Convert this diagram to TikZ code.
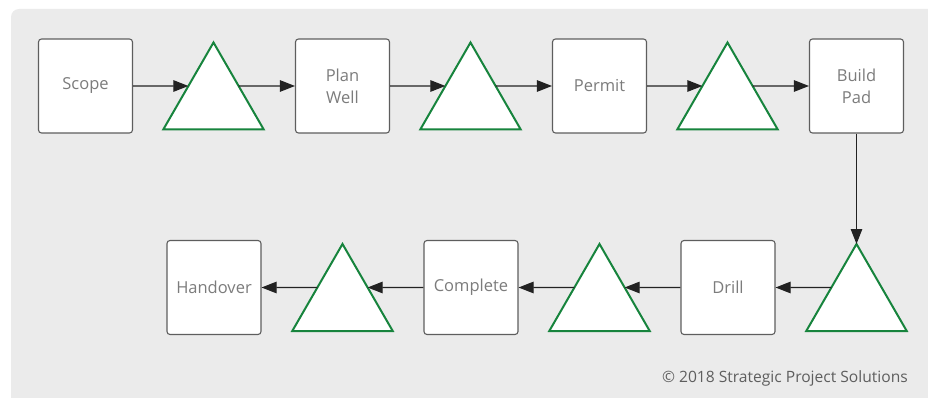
\documentclass[tikz,border=0pt]{standalone}
\usepackage{fontspec}
\setmainfont{Open Sans}
\usetikzlibrary{arrows.meta,shapes.geometric}
\definecolor{panel}{HTML}{EBEBEB}
\definecolor{boxline}{HTML}{5E5E5E}
\definecolor{boxtext}{HTML}{7C7C7C}
\definecolor{gatecol}{HTML}{17843D}
\definecolor{flow}{HTML}{222222}
\tikzset{
  stepbox/.style={draw=boxline, line width=1.1pt, fill=white, rounded corners=3pt,
    minimum width=94pt, minimum height=94pt, inner sep=2pt, align=center,
    text=boxtext, font=\fontsize{16.5}{22}\selectfont},
  gate/.style={regular polygon, regular polygon sides=3, draw=gatecol, line width=2pt,
    fill=white, minimum size=116pt, inner sep=0pt, outer sep=0pt},
  flowline/.style={draw=flow, line width=1.1pt, -{Triangle[length=15pt,width=11.5pt]}}
}
\begin{document}
\begin{tikzpicture}[x=1pt,y=-1pt]
\useasboundingbox (0,0) rectangle (928,398);
\clip (0,0) rectangle (928,398);
% background panel
\fill[panel, rounded corners=8pt] (11,9) rectangle (950,420);

% top row
\node[stepbox] (scope)  at (85.5,86)  {Scope};
\node[gate]    (g1)     at (213.5,100.5) {};
\node[stepbox] (plan)   at (342.5,86) {Plan\\Well};
\node[gate]    (g2)     at (470.5,100.5) {};
\node[stepbox] (permit) at (599.5,86) {Permit};
\node[gate]    (g3)     at (727.5,100.5) {};
\node[stepbox] (pad)    at (856.5,86) {Build\\Pad};

% bottom row
\node[gate]    (g4)     at (856.5,302) {};
\node[stepbox] (drill)  at (728,287.5)   {Drill};
\node[gate]    (g5)     at (599.5,302) {};
\node[stepbox] (complete) at (471,287.5) {Complete};
\node[gate]    (g6)     at (342.5,302) {};
\node[stepbox] (handover) at (214,287.5) {Handover};

% flow connectors
\draw[flowline] (scope.east) -- (g1.150);
\draw[flowline] (g1.30) -- (plan.west);
\draw[flowline] (plan.east) -- (g2.150);
\draw[flowline] (g2.30) -- (permit.west);
\draw[flowline] (permit.east) -- (g3.150);
\draw[flowline] (g3.30) -- (pad.west);
\draw[flowline] (pad.south) -- (g4.corner 1);
\draw[flowline] (g4.150) -- (drill.east);
\draw[flowline] (drill.west) -- (g5.30);
\draw[flowline] (g5.150) -- (complete.east);
\draw[flowline] (complete.west) -- (g6.30);
\draw[flowline] (g6.150) -- (handover.east);

\node[anchor=base east, text=boxline, font=\fontsize{15.6}{18}\selectfont, inner sep=0pt]
  (credit) at (908,382) {© 2018 Strategic Project Solutions};
\end{tikzpicture}
\end{document}
